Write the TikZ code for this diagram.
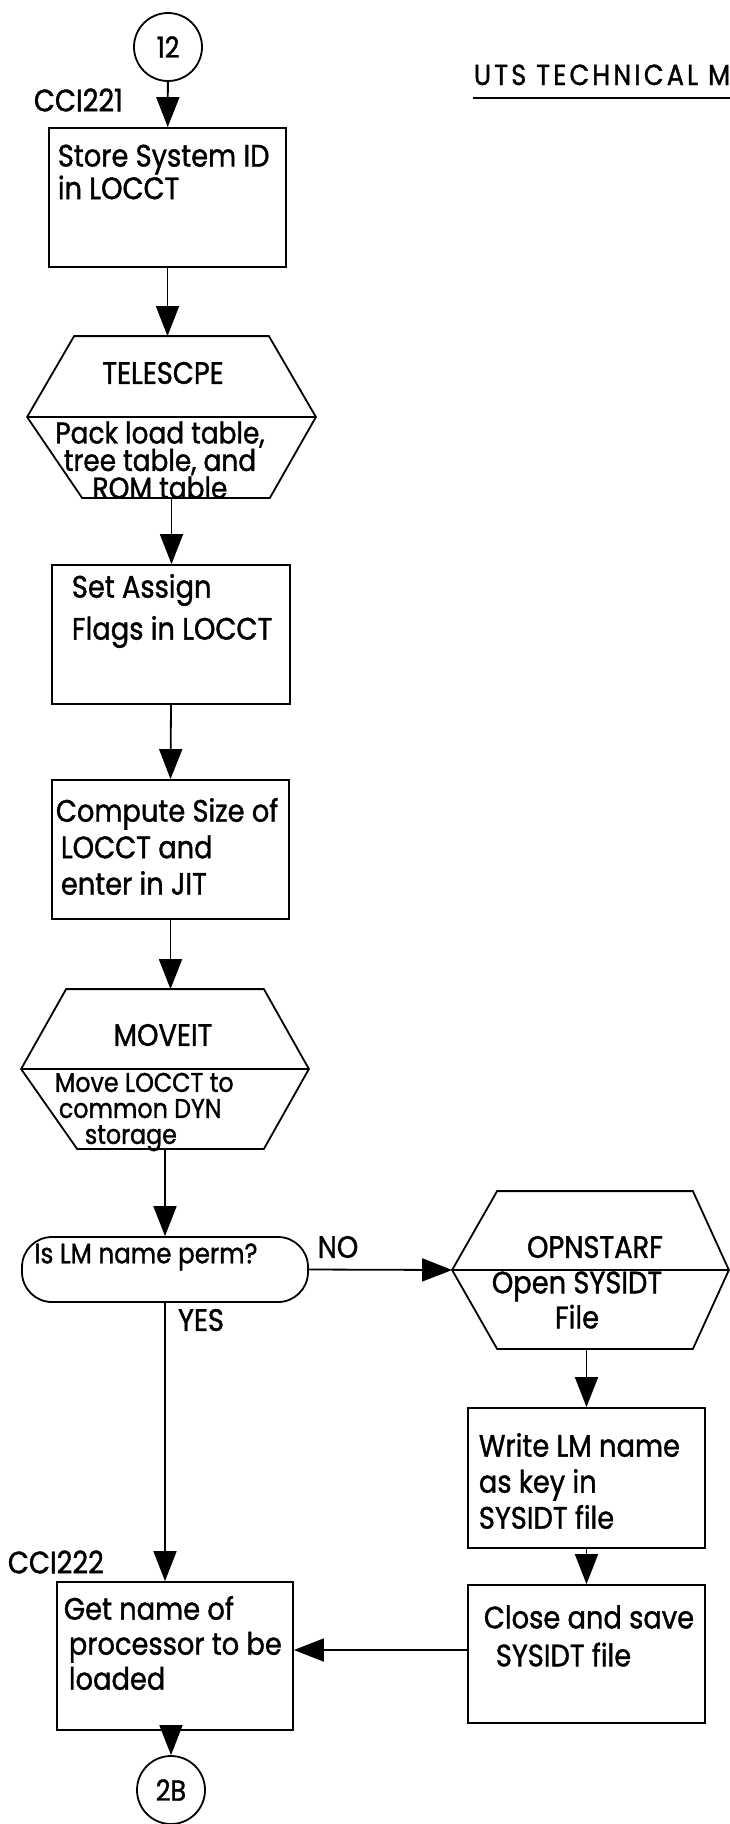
\documentclass[tikz,border=0pt]{standalone}
\usepackage{fontspec}
\setmainfont{Poppins}[FakeStretch=0.88,FakeBold=1.2]
\usetikzlibrary{arrows.meta}
\begin{document}
\begin{tikzpicture}[x=1pt,y=-1pt,
  line width=1.8pt,
  arr/.style={-{Triangle[width=23pt,length=30pt]}},
  box/.style={draw, rectangle, inner sep=0pt},
  hexframe/.style={draw=none, rectangle, inner sep=0pt},
  conn/.style={draw, circle, inner sep=0pt, minimum size=68pt, font=\fontsize{29}{29}\selectfont},
  txt/.style={inner sep=0pt, align=left, anchor=west},
  ctxt/.style={inner sep=0pt, align=center},
  lbl/.style={inner sep=0pt, anchor=west, font=\fontsize{31}{31}\selectfont}
]
\useasboundingbox (0,0) rectangle (730,1824);
\tikzset{every node/.append style={font=\fontsize{31}{31}\selectfont}}

% title
\begin{scope}
\clip (0,0) rectangle (730,1824);
\node[inner sep=0pt, anchor=base west, font=\fontsize{29}{29}\selectfont\addfontfeature{LetterSpace=11}] (title) at (473,85) {UTS TECHNICAL M};
\draw[line width=1.4pt] ([yshift=-13pt]title.base west) -- ++(260,0);
\end{scope}

% left column
\node[conn] (c12) at (168,47) {12};
\node[lbl] (l221) at (33,100) {CCI221};
\node[box, minimum width=237pt, minimum height=139pt] (b1) at (167.5,197.5) {};
\node[txt, font=\fontsize{31}{27}\selectfont] (b1t) at (57,172) {Store System ID\\in LOCCT};

\node[hexframe, minimum width=287pt, minimum height=160pt] (h1) at (171.5,417) {};
\draw (h1.west) -- ([xshift=47pt]h1.north west) -- ([xshift=-47pt]h1.north east) -- (h1.east)
  -- ([xshift=-46pt]h1.south east) -- ([xshift=55pt]h1.south west) -- cycle;
\draw (h1.west) -- (h1.east);
\node[ctxt] (h1a) at (163,373) {TELESCPE};
\node[ctxt, font=\fontsize{30}{23}\selectfont] (h1b) at (160,460) {Pack load table,\\tree table, and\\ROM table};

\node[box, minimum width=238pt, minimum height=139pt] (b3) at (171,634.5) {};
\node[txt, font=\fontsize{31}{42}\selectfont] (b3t) at (71,611) {Set Assign\\Flags in LOCCT};

\node[box, minimum width=237pt, minimum height=139pt] (b4) at (170.5,849.5) {};
\node[txt, font=\fontsize{31}{36.5}\selectfont] (b4t) at (55,846.5) {Compute Size of\\\hspace*{5pt}LOCCT and\\\hspace*{5pt}enter in JIT};

\node[hexframe, minimum width=286pt, minimum height=158pt] (h2) at (165,1069) {};
\draw (h2.west) -- ([xshift=45pt]h2.north west) -- ([xshift=-45pt]h2.north east) -- (h2.east)
  -- ([xshift=-45pt]h2.south east) -- ([xshift=56pt]h2.south west) -- cycle;
\draw (h2.west) -- (h2.east);
\node[ctxt] (h2a) at (163,1035) {MOVEIT};
\node[txt, font=\fontsize{27}{26}\selectfont] (h2b) at (54,1112) {Move LOCCT to\\\hspace*{4pt}common DYN\\\hspace*{30pt}storage};

\node[draw, rounded corners=30pt, minimum width=286pt, minimum height=65pt, inner sep=0pt] (d1) at (165,1269.5) {};
\node[ctxt, font=\fontsize{28}{28}\selectfont] (d1t) at (146,1257) {Is LM name perm?};
\node[ctxt] (no) at (338,1247) {NO};
\node[ctxt] (yes) at (201,1320) {YES};

\node[lbl] (l222) at (7,1562) {CCI222};
\node[box, minimum width=236pt, minimum height=148pt] (b5) at (175,1656) {};
\node[txt, font=\fontsize{31}{35}\selectfont] (b5t) at (63,1643) {Get name of\\\hspace*{5pt}processor to be\\\hspace*{5pt}loaded};

\node[conn] (c2b) at (171,1790) {2B};

% right column
\node[hexframe, minimum width=275pt, minimum height=156pt] (h3) at (590.5,1270) {};
\draw (h3.west) -- ([xshift=45pt]h3.north west) -- ([xshift=-36pt]h3.north east) -- (h3.east)
  -- ([xshift=-36pt]h3.south east) -- ([xshift=45pt]h3.south west) -- cycle;
\draw (h3.west) -- (h3.east);
\node[ctxt] (h3a) at (595,1247) {OPNSTARF};
\node[ctxt, font=\fontsize{31}{35}\selectfont] (h3b) at (577,1300) {Open SYSIDT\\File};

\node[box, minimum width=237pt, minimum height=140pt] (bw) at (586.5,1478) {};
\node[txt, font=\fontsize{31}{36}\selectfont] (bwt) at (478,1481) {Write LM name\\as key in\\SYSIDT file};

\node[box, minimum width=237pt, minimum height=138pt] (bc) at (586.5,1654) {};
\node[txt, font=\fontsize{31}{38}\selectfont] (bct) at (483,1636) {Close and save\\\hspace*{12pt}SYSIDT file};

% connectors
\draw[arr] (c12) -- (b1);
\draw[arr] (b1.south) -- (b1.south |- h1.north);
\draw[arr] (h1.south) -- (h1.south |- b3.north);
\draw[arr] (b3.south) -- (b4.north);
\draw[arr] (b4.south) -- (b4.south |- h2.north);
\draw[arr] (h2.south) -- (d1.north);
\draw[arr] (d1.south) -- (d1.south |- b5.north);
\draw[arr] (d1.east) -- (h3.west);
\draw[arr] (bw.north |- h3.south) -- (bw.north);
\draw[arr] (bw.south) -- (bc.north);
\draw[arr] ([yshift=4pt]bc.west) -- ([yshift=4pt]bc.west -| b5.east);
\draw[arr] (b5.south -| c2b) -- (c2b.north);
\end{tikzpicture}
\end{document}
